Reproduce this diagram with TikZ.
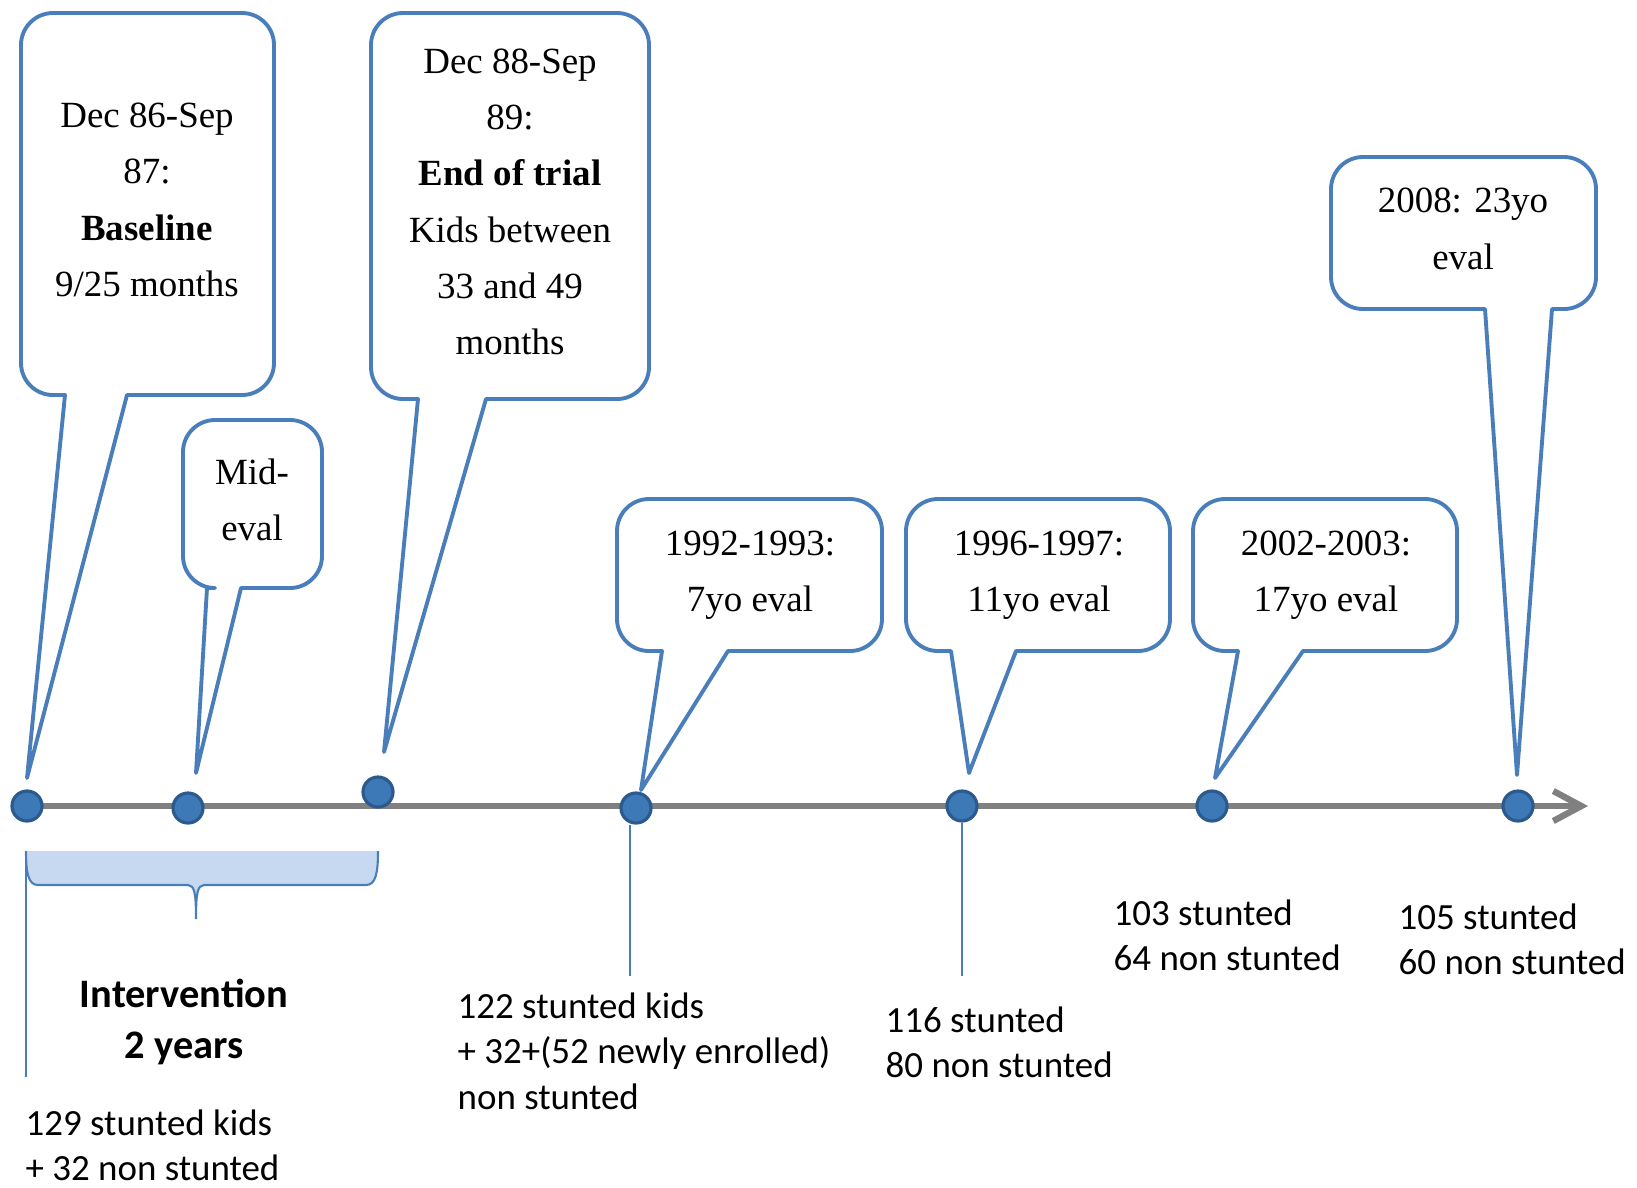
\documentclass[tikz,border=0pt]{standalone}
\usepackage{fontspec}
\setmainfont{Liberation Serif}
\newfontfamily\calibrifont{Carlito}
\usetikzlibrary{arrows.meta}
\definecolor{TLBlue}{HTML}{4A7EBB}
\definecolor{TLDot}{HTML}{3D78B7}
\definecolor{TLDotEdge}{HTML}{2C5A8C}
\definecolor{TLBrace}{HTML}{C6D9F1}
\definecolor{TLGrey}{HTML}{808080}

% speech bubble: left, top, right, bottom, pointer base left/right, tip coordinate
\newcommand{\bubble}[7]{%
  \draw[bubble] (#7) -- (#6,#4) [rounded corners=3.2mm] -- (#3,#4) -- (#3,#2) -- (#1,#2) -- (#1,#4) [sharp corners] -- (#5,#4) -- cycle;}

\begin{document}
\begin{tikzpicture}[
  x=0.01cm, y=-0.01cm,
  bubble/.style={draw=TLBlue, line width=1.1pt, fill=white, line join=round},
  bubbletext/.style={align=center, inner sep=0pt, font=\fontsize{10.5}{16}\selectfont},
  dot/.style={circle, fill=TLDot, draw=TLDotEdge, line width=0.9pt, minimum size=3mm, inner sep=0pt},
  timeline/.style={draw=TLGrey, line width=1.8pt, -{Straight Barb[length=2.8mm, width=3mm]}},
  guide/.style={draw=TLBlue, line width=0.7pt},
  tally/.style={align=left, inner sep=0pt, anchor=west, font=\calibrifont\fontsize{10.5}{12.9}\selectfont},
  spanlabel/.style={align=center, inner sep=0pt, font=\calibrifont\bfseries\fontsize{11.5}{14.5}\selectfont}
]
\useasboundingbox (0,0) rectangle (1637,1187);

% pointer tips
\coordinate (tipA) at (27,778);
\coordinate (tipB) at (196,773);
\coordinate (tipC) at (384,752);
\coordinate (tipD) at (641,790);
\coordinate (tipE) at (969,773);
\coordinate (tipF) at (1215,778);
\coordinate (tipG) at (1517,775);

\bubble{21}{13}{274}{395}{65}{127}{tipA}
\bubble{183}{420}{322}{588}{207}{241}{tipB}
\bubble{371}{13}{649}{399}{418}{486}{tipC}
\bubble{617}{499}{882}{651}{662}{728}{tipD}
\bubble{906}{499}{1170}{651}{951}{1016}{tipE}
\bubble{1193}{499}{1457}{651}{1238}{1303}{tipF}
\bubble{1331}{157}{1596}{309}{1485}{1552}{tipG}

\node[bubbletext] (baseline) at (147,200) {Dec 86-Sep\\87:\\\textbf{Baseline}\\9/25 months};
\node[bubbletext] (mideval) at (252,500) {Mid-\\eval};
\node[bubbletext] (endtrial) at (510,202) {Dec 88-Sep\\89:\\\textbf{End of trial}\\Kids between\\33 and 49\\months};
\node[bubbletext] (eval7) at (750,575) {1992-1993:\\7yo eval};
\node[bubbletext] (eval11) at (1039,575) {1996-1997:\\11yo eval};
\node[bubbletext] (eval17) at (1326,575) {2002-2003:\\17yo eval};
\node[bubbletext] (eval23) at (1463,229) {2008: 23yo\\eval};

% time axis
\coordinate (axisstart) at (16,806);
\coordinate (axisend) at (1588,806);
\draw[timeline] (axisstart) -- (axisend);

\node[dot] (d1) at (27,806) {};
\node[dot] (d2) at (188,808) {};
\node[dot] (d3) at (378,792) {};
\node[dot] (d4) at (636,808) {};
\node[dot] (d5) at (962,806) {};
\node[dot] (d6) at (1212,806) {};
\node[dot] (d7) at (1518,806) {};

% intervention bracket
\fill[TLBrace] (26,851) .. controls (26,872) and (28,885) .. (38,885) -- (188,885)
  .. controls (194,886) and (196,890) .. (196,919) .. controls (196,890) and (198,886) .. (204,885)
  -- (366,885) .. controls (376,885) and (378,872) .. (378,851) -- cycle;
\draw[guide, line width=0.6pt] (26,851) .. controls (26,872) and (28,885) .. (38,885) -- (188,885)
  .. controls (194,886) and (196,890) .. (196,919) .. controls (196,890) and (198,886) .. (204,885)
  -- (366,885) .. controls (376,885) and (378,872) .. (378,851);

\coordinate (g1a) at (26,851);
\coordinate (g1b) at (26,1077);
\coordinate (g4) at (630,976);
\coordinate (g5) at (962,976);
\draw[guide] (g1a) -- (g1b);
\draw[guide] (d4.south -| g4) -- (g4);
\draw[guide] (d5.south) -- (g5);

\node[spanlabel] (intervention) at (184,1022) {Intervention\\2 years};
\node[tally] (n0) at (25,1145) {129 stunted kids\\+ 32 non stunted};
\node[tally] (n1) at (457,1051) {122 stunted kids\\+ 32+(52 newly enrolled)\\non stunted};
\node[tally] (n2) at (885,1042) {116 stunted\\80 non stunted};
\node[tally] (n3) at (1113,935) {103 stunted\\64 non stunted};
\node[tally] (n4) at (1398,939) {105 stunted\\60 non stunted};
\end{tikzpicture}
\end{document}
